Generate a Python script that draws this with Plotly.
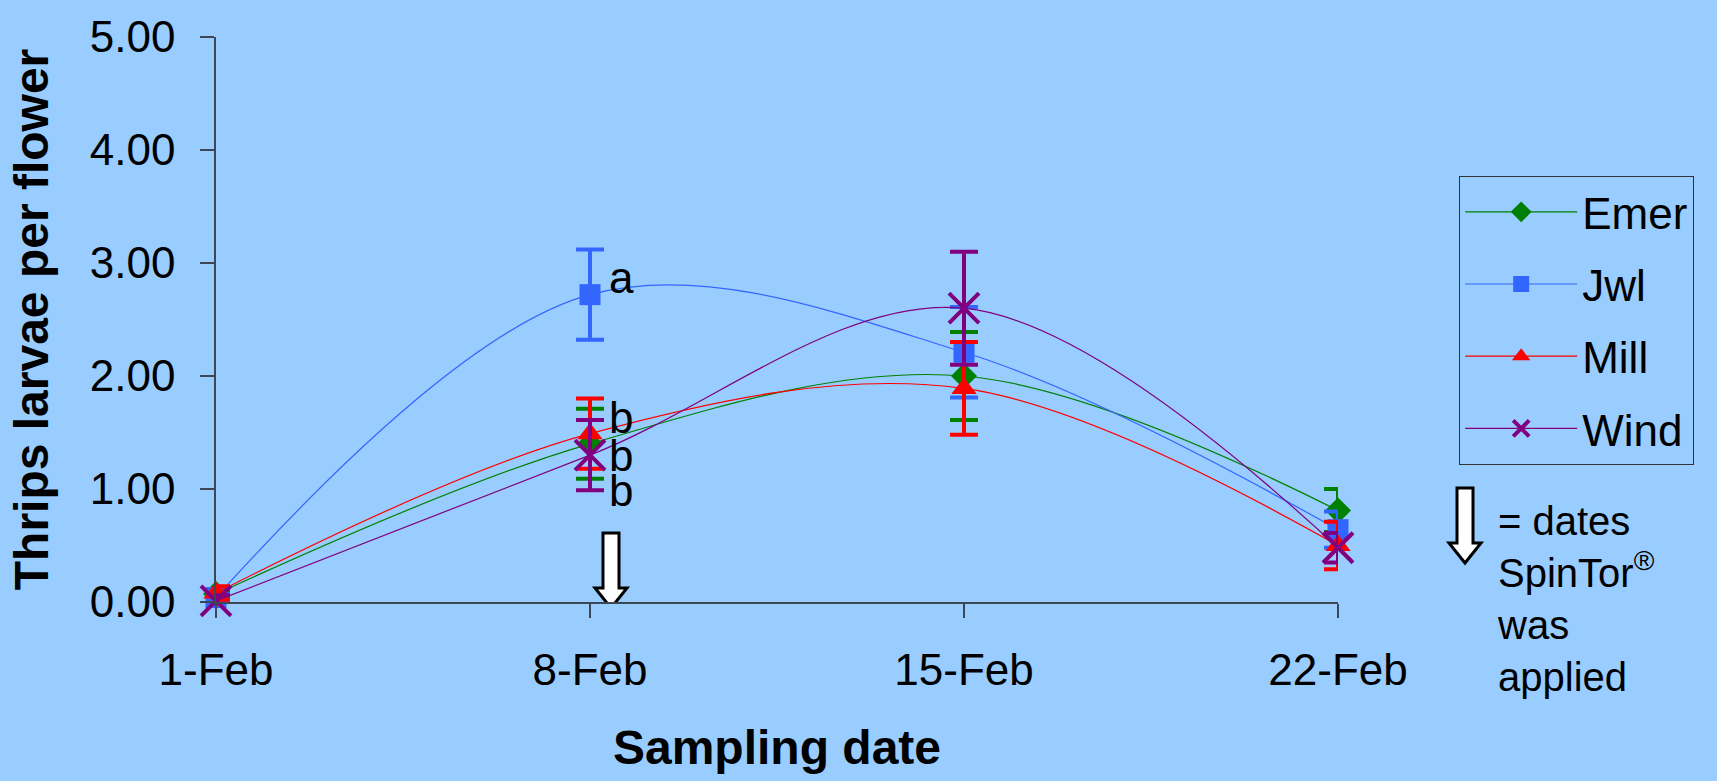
import plotly.graph_objects as go

# Sampling dates (day of February) and their tick labels
days = [1, 8, 15, 22]
date_labels = ["1-Feb", "8-Feb", "15-Feb", "22-Feb"]

# Mean thrips larvae per flower and error (±) for each cultivar
emer = [0.07, 1.40, 2.00, 0.81]
emer_err = [0.03, 0.31, 0.39, 0.19]
jwl = [0.04, 2.72, 2.21, 0.64]
jwl_err = [0.03, 0.40, 0.40, 0.16]
mill = [0.08, 1.49, 1.89, 0.50]
mill_err = [0.06, 0.31, 0.41, 0.21]
wind = [0.01, 1.30, 2.60, 0.48]
wind_err = [0.05, 0.31, 0.50, 0.13]

# Mean-separation letters shown beside the 8-Feb points
sep_day = 8
sep_letters = ["a", "b", "b", "b"]
sep_y = [2.87, 1.63, 1.30, 0.99]

# Days on which SpinTor was applied
spray_days = [8]

FONT = "Liberation Sans, Arial, sans-serif"
BG = "#99CCFF"
AXIS = "#3c4654"

series = [
    ("Emer", emer, emer_err, "#008000", dict(symbol="diamond", size=20)),
    ("Jwl", jwl, jwl_err, "#3366FF", dict(symbol="square", size=21)),
    ("Mill", mill, mill_err, "#FF0000", dict(symbol="triangle-up", size=22)),
    ("Wind", wind, wind_err, "#800080", dict(symbol="x-thin", size=30)),
]

fig = go.Figure()
for name, vals, errs, color, mk in series:
    marker = dict(color=color, **mk)
    if mk["symbol"] == "x-thin":
        marker["line"] = dict(color=color, width=4)
    else:
        marker["line"] = dict(width=0)
    fig.add_trace(go.Scatter(
        x=days, y=vals, name=name, legendgroup=name,
        mode="lines+markers",
        line=dict(color=color, width=1.2, shape="spline", smoothing=1),
        marker=marker,
        error_y=dict(type="data", array=errs, visible=True,
                     color=color, thickness=4, width=14),
        cliponaxis=False,
    ))

for txt, yv in zip(sep_letters, sep_y):
    fig.add_annotation(x=sep_day, y=yv, text=txt, showarrow=False,
                       xanchor="left", yanchor="middle", xshift=17,
                       font=dict(family=FONT, size=44, color="black"))

# Downward arrows marking spray dates (drawn in pixel units at each date)
arrow_path_date = "M 13,69 L 29,69 L 29,14 L 37,14 L 21,-6 L 5,14 L 13,14 Z"
for d in spray_days:
    fig.add_shape(type="path", xref="x", yref="y",
                  xsizemode="pixel", ysizemode="pixel",
                  xanchor=d, yanchor=0, path=arrow_path_date,
                  fillcolor="white", line=dict(color="black", width=3),
                  layer="above")

# Key arrow beside the explanatory note
fig.add_shape(type="path", xref="paper", yref="paper",
              xsizemode="pixel", ysizemode="pixel",
              xanchor=1.1132, yanchor=0,
              path="M -8,114 L 8,114 L 8,59 L 16,59 L 0,39 L -16,59 L -8,59 Z",
              fillcolor="white", line=dict(color="black", width=3),
              layer="above")
fig.add_annotation(xref="paper", yref="paper", x=1.14, y=0.185,
                   xanchor="left", yanchor="top", align="left",
                   showarrow=False,
                   text="= dates<br>SpinTor<sup>®</sup><br>was<br>applied",
                   font=dict(family=FONT, size=40, color="black"))

fig.update_layout(
    width=1717, height=781,
    paper_bgcolor=BG, plot_bgcolor=BG,
    margin=dict(l=216, r=379, t=30, b=179),
    font=dict(family=FONT, color="black"),
    showlegend=True,
    legend=dict(x=1.108, xanchor="left", y=0.7545, yanchor="top",
                bgcolor="rgba(0,0,0,0)", bordercolor="#333333", borderwidth=1,
                font=dict(family=FONT, size=44, color="black"),
                itemwidth=112, tracegroupgap=12, itemsizing="trace"),
    xaxis=dict(range=[1, 22], tickvals=days, ticktext=date_labels,
               showgrid=False, zeroline=False, showline=True,
               linecolor=AXIS, linewidth=1.5,
               ticks="outside", ticklen=14, tickcolor=AXIS, tickwidth=1.5,
               tickfont=dict(family=FONT, size=44, color="black"),
               ticklabelstandoff=14,
               title=dict(text="<b>Sampling date</b>", standoff=38,
                          font=dict(family=FONT, size=48, color="black"))),
    yaxis=dict(range=[0, 5], tickvals=[0, 1, 2, 3, 4, 5],
               tickformat=".2f",
               showgrid=False, zeroline=False, showline=True,
               linecolor=AXIS, linewidth=1.5,
               ticks="outside", ticklen=14, tickcolor=AXIS, tickwidth=1.5,
               tickfont=dict(family=FONT, size=44, color="black"),
               ticklabelstandoff=16,
               title=dict(text="<b>Thrips larvae per flower</b>", standoff=26,
                          font=dict(family=FONT, size=48, color="black"))),
)

fig.write_html("out.html")
